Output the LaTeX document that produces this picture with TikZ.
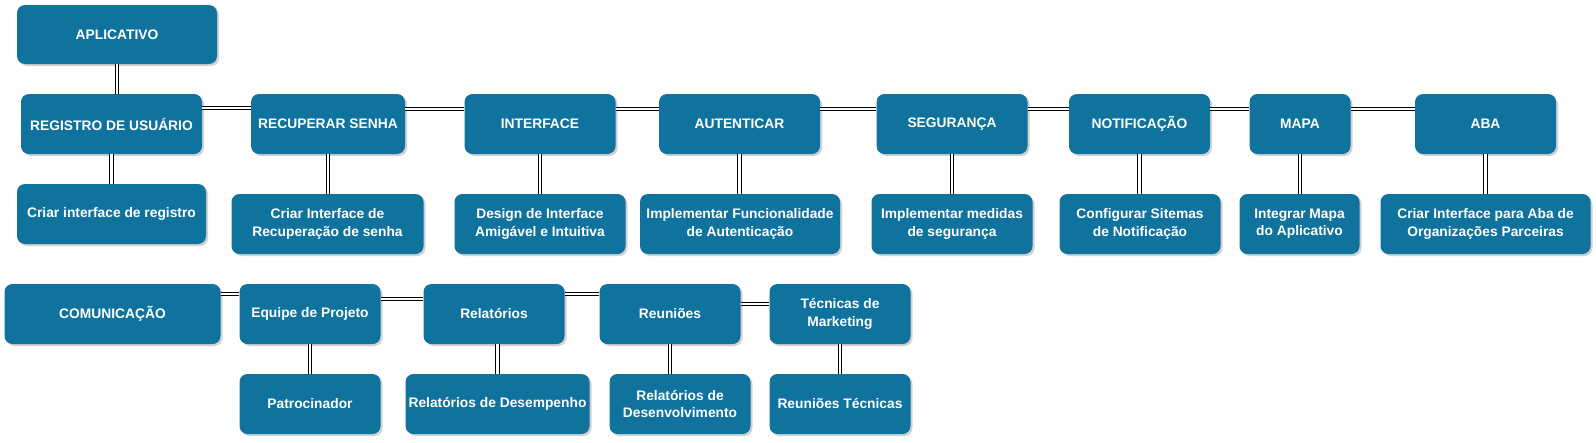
\documentclass[tikz,border=0pt]{standalone}
\usepackage{fontspec}
\setmainfont{Liberation Sans}
\usepackage{xcolor}
\usetikzlibrary{shapes}
\usetikzlibrary{shadows}

\definecolor{azul}{HTML}{10739E}

\tikzset{
    caixa/.style={rectangle, rounded corners=8pt, fill=azul, text=white,
        font=\fontsize{13.8}{17.3}\selectfont\bfseries, align=center,
        inner sep=0pt, minimum height=60pt,
        drop shadow={shadow xshift=2pt, shadow yshift=-2pt, fill=black, opacity=0.18}},
    liga/.style={draw=black, line width=0.9pt, double=white, double distance=2.4pt}
}

\begin{document}
\begin{tikzpicture}[x=1pt, y=-1pt]
                \useasboundingbox (0,0) rectangle (1596,442);

                % raiz
                \node[caixa, minimum width=200pt, minimum height=59pt] (app) at (117,34.5) {APLICATIVO};

                % primeira linha
                \node[caixa, minimum width=181pt] (reg) at (111.5,124) {REGISTRO DE USUÁRIO};
                \node[caixa, minimum width=154pt] (rec) at (328,124) {RECUPERAR SENHA};
                \node[caixa, minimum width=151pt] (int) at (540,124) {INTERFACE};
                \node[caixa, minimum width=161pt] (aut) at (739.5,124) {AUTENTICAR};
                \node[caixa, minimum width=151pt] (seg) at (952,124) {SEGURANÇA};
                \node[caixa, minimum width=141pt] (notif) at (1139.5,124) {NOTIFICAÇÃO};
                \node[caixa, minimum width=101pt] (mapa) at (1300,124) {MAPA};
                \node[caixa, minimum width=141pt] (aba) at (1485.5,124) {ABA};

                % tarefas
                \node[caixa, minimum width=189pt] (regf) at (111.5,214) {Criar interface de registro};
                \node[caixa, minimum width=192pt] (recf) at (327.5,224) {Criar Interface de\\Recuperação de senha};
                \node[caixa, minimum width=171pt] (intf) at (540,224) {Design de Interface\\Amigável e Intuitiva};
                \node[caixa, minimum width=200pt] (autf) at (740,224) {Implementar Funcionalidade\\de Autenticação};
                \node[caixa, minimum width=161pt] (segf) at (952,224) {Implementar medidas\\de segurança};
                \node[caixa, minimum width=161pt] (notf) at (1140,224) {Configurar Sitemas\\de Notificação};
                \node[caixa, minimum width=120pt] (mapf) at (1299.5,224) {Integrar Mapa\\do Aplicativo};
                \node[caixa, minimum width=210pt] (abaf) at (1485.5,224) {Criar Interface para Aba de\\Organizações Parceiras};

                % comunicacao
                \node[caixa, minimum width=216pt] (com) at (112.5,314) {COMUNICAÇÃO};
                \node[caixa, minimum width=141pt] (equ) at (310,314) {Equipe de Projeto};
                \node[caixa, minimum width=141pt] (rel) at (494,314) {Relatórios};
                \node[caixa, minimum width=141pt] (reu) at (670,314) {Reuniões};
                \node[caixa, minimum width=141pt] (tec) at (840,314) {Técnicas de\\Marketing};

                \node[caixa, minimum width=141pt] (pat) at (310,404) {Patrocinador};
                \node[caixa, minimum width=184pt] (reld) at (497.5,404) {Relatórios de Desempenho};
                \node[caixa, minimum width=141pt] (reldv) at (680,404) {Relatórios de\\Desenvolvimento};
                \node[caixa, minimum width=141pt] (reut) at (840,404) {Reuniões Técnicas};

                % ligacoes horizontais
                \draw[liga] (reg.east |- 0,108) -- (rec.west |- 0,108);
                \draw[liga] (rec.east |- 0,109) -- (int.west |- 0,109);
                \draw[liga] (int.east |- 0,109) -- (aut.west |- 0,109);
                \draw[liga] (aut.east |- 0,109) -- (seg.west |- 0,109);
                \draw[liga] (seg.east |- 0,109) -- (notif.west |- 0,109);
                \draw[liga] (notif.east |- 0,109) -- (mapa.west |- 0,109);
                \draw[liga] (mapa.east |- 0,109) -- (aba.west |- 0,109);
                \draw[liga] (com.east |- 0,294) -- (equ.west |- 0,294);
                \draw[liga] (equ.east |- 0,299) -- (rel.west |- 0,299);
                \draw[liga] (rel.east |- 0,294) -- (reu.west |- 0,294);
                \draw[liga] (reu.east |- 0,304) -- (tec.west |- 0,304);

                % ligacoes verticais
                \draw[liga] (app.south) -- (reg.north -| app.south);
                \draw[liga] (reg.south) -- (regf.north -| reg.south);
                \draw[liga] (rec.south) -- (recf.north -| rec.south);
                \draw[liga] (int.south) -- (intf.north -| int.south);
                \draw[liga] (aut.south) -- (autf.north -| aut.south);
                \draw[liga] (seg.south) -- (segf.north -| seg.south);
                \draw[liga] (notif.south) -- (notf.north -| notif.south);
                \draw[liga] (mapa.south) -- (mapf.north -| mapa.south);
                \draw[liga] (aba.south) -- (abaf.north -| aba.south);
                \draw[liga] (equ.south) -- (pat.north -| equ.south);
                \draw[liga] (rel.south -| reld.north) -- (reld.north);
                \draw[liga] (reu.south) -- (reldv.north -| reu.south);
                \draw[liga] (tec.south) -- (reut.north -| tec.south);
\end{tikzpicture}
\end{document}
